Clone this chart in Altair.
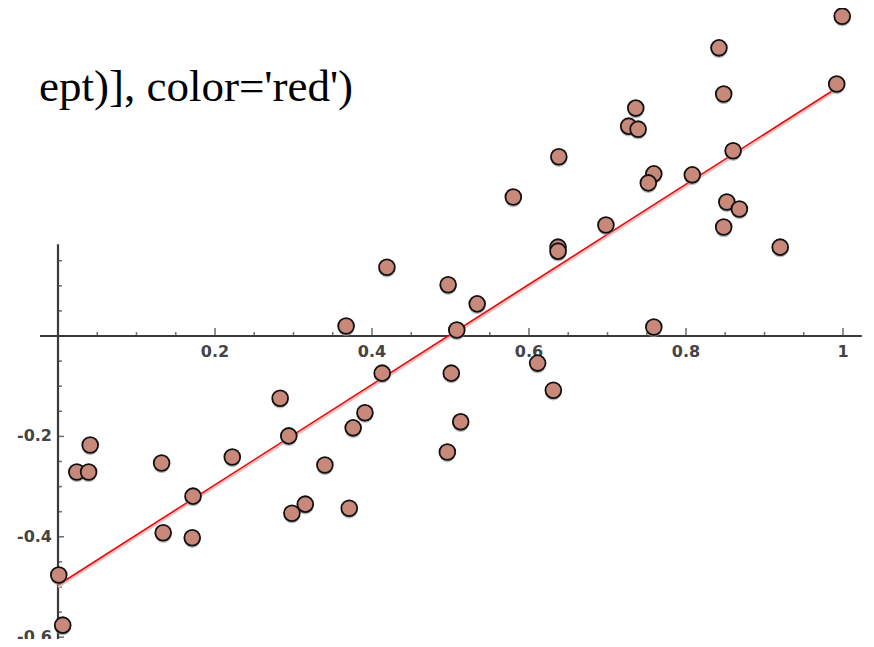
import altair as alt
import pandas as pd

# scatter data
xs = [0.999, 0.842, 0.992, 0.848, 0.736, 0.727, 0.739, 0.638, 0.860, 0.759,
      0.752, 0.808, 0.580, 0.852, 0.868, 0.698, 0.848, 0.637, 0.637, 0.920,
      0.419, 0.497, 0.534, 0.367, 0.508, 0.759, 0.611, 0.413, 0.501, 0.631,
      0.283, 0.391, 0.376, 0.294, 0.513, 0.041, 0.024, 0.039, 0.132, 0.222,
      0.496, 0.340, 0.172, 0.315, 0.298, 0.371, 0.134, 0.171, 0.001, 0.006]
ys = [0.637, 0.574, 0.502, 0.482, 0.454, 0.418, 0.412, 0.357, 0.369, 0.323,
      0.305, 0.321, 0.277, 0.267, 0.253, 0.221, 0.217, 0.177, 0.169, 0.177,
      0.137, 0.102, 0.064, 0.020, 0.012, 0.018, -0.054, -0.074, -0.074, -0.108,
      -0.124, -0.153, -0.183, -0.199, -0.171, -0.217, -0.271, -0.271, -0.253, -0.241,
      -0.231, -0.257, -0.319, -0.335, -0.353, -0.343, -0.392, -0.402, -0.476, -0.576]

# fitted line endpoints
line_x = [0.0, 1.0]
line_y = [-0.496, 0.502]

# axis extents and ticks
x_axis_range = [-0.023, 1.024]
y_axis_range = [0.183, -0.62]
x_major = [0.2, 0.4, 0.6, 0.8, 1.0]
x_labels = ["0.2", "0.4", "0.6", "0.8", "1"]
x_minor = [0.05, 0.1, 0.15, 0.25, 0.3, 0.35, 0.45, 0.5, 0.55, 0.65, 0.7, 0.75, 0.85, 0.9, 0.95]
y_major = [-0.2, -0.4, -0.6]
y_labels = ["-0.2", "-0.4", "-0.6"]
y_minor = [0.15, 0.1, 0.05, -0.05, -0.1, -0.15, -0.25, -0.3, -0.35, -0.45, -0.5, -0.55]

pts = pd.DataFrame({"x": xs, "y": ys})
line_df = pd.DataFrame({"x": line_x, "y": line_y})
xax = pd.DataFrame({"x": [x_axis_range[0]], "x2": [x_axis_range[1]], "y": [0.0]})
yax = pd.DataFrame({"x": [0.0], "y": [y_axis_range[0]], "y2": [y_axis_range[1]]})
xmaj = pd.DataFrame({"x": x_major, "y": 0.0, "label": x_labels})
xmin_ = pd.DataFrame({"x": x_minor, "y": 0.0})
ymaj = pd.DataFrame({"y": y_major, "x": 0.0, "label": y_labels})
ymin_ = pd.DataFrame({"y": y_minor, "x": 0.0})

W, H = 858, 631
xsc = alt.Scale(domain=[-50 / 785, 808 / 785], nice=False, zero=False)
ysc = alt.Scale(domain=[(328 - 631) / 502, 328 / 502], nice=False, zero=False)


def X(f):
    return alt.X(f, type="quantitative", scale=xsc, axis=None)


def Y(f):
    return alt.Y(f, type="quantitative", scale=ysc, axis=None)


AX = "#3a3a3a"

x_axis = alt.Chart(xax).mark_rule(color=AX, strokeWidth=2.2).encode(x=X("x"), x2="x2", y=Y("y"))
y_axis = alt.Chart(yax).mark_rule(color=AX, strokeWidth=2.2).encode(x=X("x"), y=Y("y"), y2="y2")

xt_major = alt.Chart(xmaj).mark_tick(orient="vertical", size=8, thickness=1.6, color=AX, yOffset=-4).encode(
    x=X("x"), y=Y("y"))
xt_minor = alt.Chart(xmin_).mark_tick(orient="vertical", size=4, thickness=1.6, color=AX, yOffset=-2).encode(
    x=X("x"), y=Y("y"))
yt_major = alt.Chart(ymaj).mark_tick(orient="horizontal", size=6, thickness=1.6, color=AX, xOffset=3).encode(
    y=Y("y"), x=X("x"))
yt_minor = alt.Chart(ymin_).mark_tick(orient="horizontal", size=4, thickness=1.6, color=AX, xOffset=2).encode(
    y=Y("y"), x=X("x"))

x_text = alt.Chart(xmaj).mark_text(font="DejaVu Sans", fontWeight="bold", fontSize=16, color="#444",
                                   baseline="middle", align="center", dy=16).encode(
    x=X("x"), y=Y("y"), text="label:N")
y_text = alt.Chart(ymaj).mark_text(font="DejaVu Sans", fontWeight="bold", fontSize=16, color="#444",
                                   baseline="middle", align="right", dx=-6).encode(
    y=Y("y"), x=X("x"), text="label:N")

fit_shadow = alt.Chart(line_df).mark_line(color="#f0c0c0", strokeWidth=2.5, yOffset=2).encode(x=X("x"), y=Y("y"))
fit = alt.Chart(line_df).mark_line(color="#e01010", strokeWidth=1.6).encode(x=X("x"), y=Y("y"))

shadow = alt.Chart(pts).mark_circle(size=270, color="#9a9a9a", opacity=0.7, yOffset=2).encode(x=X("x"), y=Y("y"))
points = alt.Chart(pts).mark_circle(size=250, color="#c8887a", opacity=1, stroke="#111", strokeWidth=1.8).encode(
    x=X("x"), y=Y("y"))

code_text = alt.Chart(xax).mark_text(font="Liberation Serif", fontSize=45, color="black",
                                     align="right", baseline="alphabetic",
                                     text="ept)], color='red')").encode(
    x=alt.value(345), y=alt.value(93))

chart = alt.layer(
    x_axis, y_axis, xt_major, xt_minor, yt_major, yt_minor, x_text, y_text,
    fit_shadow, fit, shadow, points, code_text
).properties(
    width=W, height=H, autosize=alt.AutoSizeParams(type="none"), padding=0, background="white"
).configure_view(stroke=None)

chart.save("out.html", embed_options={"renderer": "svg", "actions": False})
